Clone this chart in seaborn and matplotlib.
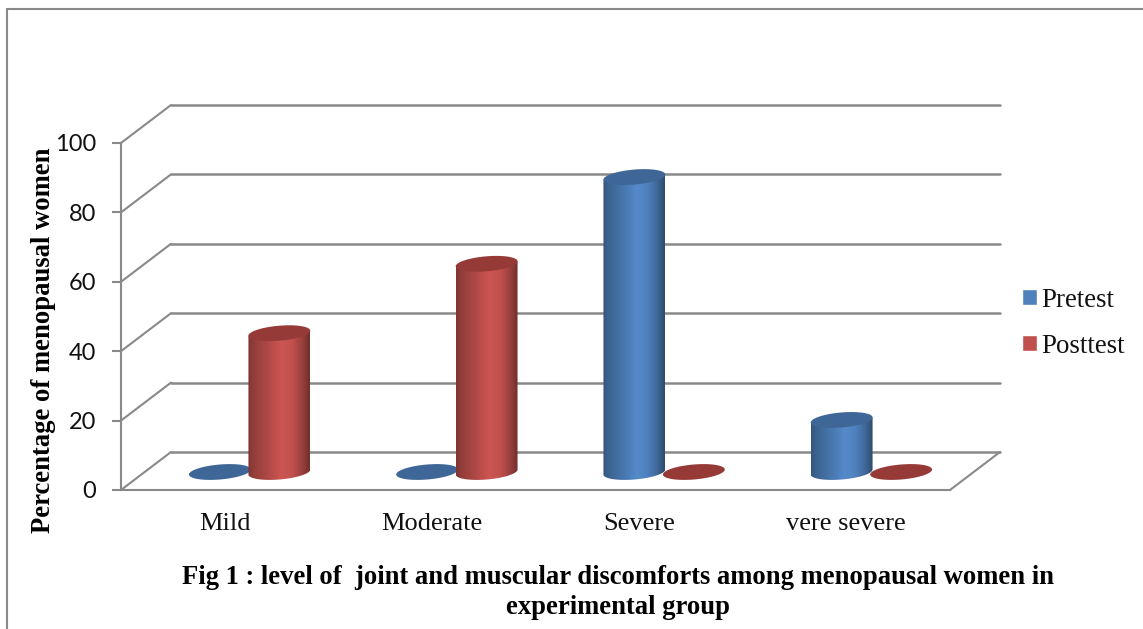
import numpy as np
import pandas as pd
import seaborn as sns
import matplotlib
matplotlib.use("Agg")
import matplotlib.pyplot as plt
from matplotlib.colors import to_rgb
from matplotlib.lines import Line2D
from matplotlib.patches import ConnectionPatch, Patch, Polygon

categories = ["Mild", "Moderate", "Severe", "vere severe"]
pretest = [0, 0, 85, 15]
posttest = [40, 60, 0, 0]
series_names = ["Pretest", "Posttest"]
y_ticks = [0, 20, 40, 60, 80, 100]

W, H = 1143, 629
GRAY = "#898989"
BLUE, RED = "#4F81BD", "#C0504D"
TOP = {BLUE: "#3E6797", RED: "#963A37"}
SERIF = "Liberation Serif"

sns.set_theme(style="white")
fig = plt.figure(figsize=(W / 100, H / 100), dpi=100, facecolor="white")


def px_axes(left, top, right, bottom):
    return fig.add_axes([left / W, 1 - bottom / H, (right - left) / W, (bottom - top) / H])


# back wall with gridlines
ax_wall = px_axes(171, 105, 1000, 452)
ax_wall.set_xlim(0, 1)
ax_wall.set_ylim(0, 100)
ax_wall.set_yticks(y_ticks)
ax_wall.set_xticks([])
ax_wall.tick_params(left=False, labelleft=False)
ax_wall.grid(axis="y", color=GRAY, lw=1.8)
ax_wall.set_axisbelow(True)
for s in ax_wall.spines.values():
    s.set_visible(False)
for line in ax_wall.get_ygridlines():
    line.set_clip_on(False)

# front axes with ticks and labels
ax_front = px_axes(121, 143, 950, 490)
ax_front.patch.set_alpha(0)
ax_front.set_xlim(-0.5, 3.5)
ax_front.set_ylim(0, 100)
ax_front.set_yticks(y_ticks)
ax_front.set_xticks(range(len(categories)), categories)
for s in ["top", "right"]:
    ax_front.spines[s].set_visible(False)
for s in ["left", "bottom"]:
    ax_front.spines[s].set_color(GRAY)
    ax_front.spines[s].set_linewidth(1.5)
ax_front.tick_params(axis="y", left=True, length=6.5, width=1.5, color=GRAY, pad=11.5,
                     labelsize=17, labelcolor="#111111")
ax_front.tick_params(axis="x", bottom=False, pad=10.5, labelsize=19, labelcolor="#111111")
for t in ax_front.get_yticklabels():
    t.set_fontfamily("Lato")
for t in ax_front.get_xticklabels():
    t.set_fontfamily(SERIF)

# depth lines joining front axis and back wall
for v in y_ticks:
    fig.add_artist(ConnectionPatch((-0.5, v), (0, v), coordsA=ax_front.transData,
                                   coordsB=ax_wall.transData, arrowstyle="-", color=GRAY, lw=1.5))
fig.add_artist(ConnectionPatch((3.5, 0), (1, 0), coordsA=ax_front.transData,
                               coordsB=ax_wall.transData, arrowstyle="-", color=GRAY, lw=1.5))

# cylinders
PX_UNIT = 3.47
ax_bars = px_axes(146, 472 - 100 * PX_UNIT, 975, 472 + 10 * PX_UNIT)
df = pd.DataFrame({
    "category": categories * 2,
    "value": pretest + posttest,
    "series": [series_names[0]] * 4 + [series_names[1]] * 4,
})
sns.barplot(data=df, x="category", y="value", hue="series", hue_order=series_names,
            palette=[BLUE, RED], saturation=1, width=0.574, legend=False, ax=ax_bars)
ax_bars.set_xlim(-0.5, 3.5)
ax_bars.set_ylim(-10, 100)
ax_bars.axis("off")

b_d, s_d = 7.5 / PX_UNIT, 2.5 / PX_UNIT
t_full = np.linspace(0, 2 * np.pi, 120)
t_low = np.linspace(np.pi, 2 * np.pi, 60)
g_pos = [0, 0.08, 0.3, 0.55, 0.72, 0.88, 1]
g_val = [0.66, 0.76, 0.9, 1.07, 1.0, 0.8, 0.58]

items = []
for container, col in zip(ax_bars.containers, [BLUE, RED]):
    for bar in container:
        items.append((bar.get_x() + bar.get_width() / 2, bar.get_width(), bar.get_height(), col))
        bar.set_alpha(0)
items.sort(key=lambda r: r[0])

for i, (cx, bw, h, col) in enumerate(items):
    a = bw / 2 * 1.04
    z = 3 + i
    if h > 0:
        body = np.vstack([
            [[cx - a, h - s_d]],
            np.column_stack([cx + a * np.cos(t_low), b_d * np.sin(t_low) + s_d * np.cos(t_low)]),
            [[cx + a, h + s_d]],
        ])
        poly = Polygon(body, closed=True, fc="none", ec="none", transform=ax_bars.transData, zorder=z)
        ax_bars.add_patch(poly)
        u = np.linspace(0, 1, 128)
        f = np.interp(u, g_pos, g_val)
        grad = np.clip(np.outer(f, to_rgb(col)), 0, 1)[None, :, :]
        im = ax_bars.imshow(grad, extent=(cx - a, cx + a, -10, h + 10), aspect="auto",
                            interpolation="bilinear", zorder=z)
        im.set_clip_path(poly)
    cap = np.column_stack([cx + a * np.cos(t_full),
                           h + b_d * np.sin(t_full) + s_d * np.cos(t_full)])
    ax_bars.add_patch(Polygon(cap, closed=True, fc=TOP[col], ec="none", zorder=z + 0.5))
ax_bars.set_xlim(-0.5, 3.5)
ax_bars.set_ylim(-10, 100)

# legend
fig.legend(handles=[Patch(fc=BLUE, label=series_names[0]), Patch(fc=RED, label=series_names[1])],
           loc="upper left", bbox_to_anchor=(1022 / W, 1 - 288 / H), frameon=False,
           prop={"family": SERIF, "size": 19.4}, labelcolor="#111111", borderpad=0, borderaxespad=0,
           handlelength=0.54, handleheight=0.54, handletextpad=0.17, labelspacing=0.77)

# text
fig.text(31 / W, 1 - 340 / H, "Percentage of menopausal women", rotation=90, ha="left", va="center",
         family=SERIF, weight="bold", size=19.2, color="black")
fig.text(618.5 / W, 1 - 578 / H, "Fig 1 : level of  joint and muscular discomforts among menopausal women in",
         ha="center", va="center", family=SERIF, weight="bold", size=19.15, color="black")
fig.text(618.5 / W, 1 - 608 / H, "experimental group", ha="center", va="center",
         family=SERIF, weight="bold", size=19.15, color="black")

# outer frame
fig.add_artist(Line2D([7 / W, 7 / W], [0, 1 - 9 / H], color=GRAY, lw=1.5))
fig.add_artist(Line2D([7 / W, 1], [1 - 9 / H, 1 - 9 / H], color=GRAY, lw=1.5))

fig.savefig("out.png", dpi=100, facecolor="white")
